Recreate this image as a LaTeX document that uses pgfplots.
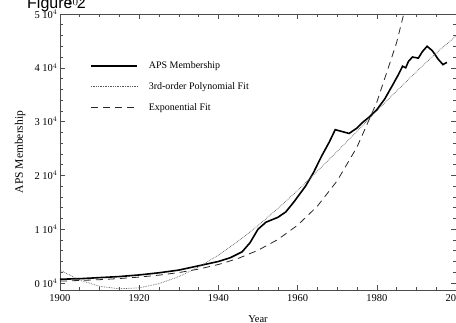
\documentclass[border=0pt]{standalone}
\usepackage{fontspec}
\setmainfont{Liberation Serif}
\newfontfamily\sansf{Liberation Sans}
\usepackage{pgfplots}
\pgfplotsset{compat=1.18}
\begin{document}
\begin{tikzpicture}[x=1pt,y=1pt]
\begin{axis}[
  at={(60pt,32pt)}, anchor=south west,
  scale only axis, width=396pt, height=276pt,
  xmin=1900, xmax=2000, ymin=-1300, ymax=50000,
  xtick={1900,1920,1940,1960,1980,2000},
  xticklabels={1900,1920,1940,1960,1980,2000},
  minor x tick num=3,
  ytick={0,10000,20000,30000,40000,50000},
  yticklabels={0 10$^4$,1 10$^4$,2 10$^4$,3 10$^4$,4 10$^4$,5 10$^4$},
  minor y tick num=4,
  major tick length=5pt, minor tick length=3pt,
  tick style={black!70, line width=0.6pt},
  axis line style={black!70, line width=0.8pt},
  ticklabel style={font=\fontsize{10.5}{12}\selectfont},
  xticklabel style={yshift=-1pt},
  yticklabel style={xshift=1pt},
  xlabel={Year}, ylabel={APS Membership},
  xlabel style={font=\fontsize{10.5}{12}\selectfont, at={(axis description cs:0.5,0)}, anchor=north, inner sep=0pt, yshift=-25pt},
  ylabel style={font=\fontsize{11.5}{13}\selectfont, at={(axis description cs:-0.101,0.5)}, anchor=center, inner sep=0pt},
  legend style={draw=none, fill=none, at={(axis description cs:0.0758,0.828)}, anchor=north west,
    inner sep=0pt, row sep=12.5pt, font=\fontsize{10}{11}\selectfont,
    nodes={inner sep=0pt, anchor=west}, column sep=11pt},
  legend cell align=left,
  legend image code/.code={\draw[#1] (0pt,0pt) -- (46pt,0pt);},
  clip=true,
]
\addplot[black, line width=1.6pt] coordinates {
(1900,700) (1905,800) (1910,1000) (1915,1200) (1920,1500) (1925,1900) (1930,2400)
(1935,3200) (1940,4000) (1943,4700) (1946,5800) (1948,7500) (1950,10000) (1952,11300)
(1955,12200) (1957,13200) (1959,15000) (1962,18000) (1964,20500) (1966,23500)
(1968,26200) (1969.5,28500) (1971,28200) (1973,27800) (1975,28800) (1976.5,29900)
(1978,30800) (1980,32200) (1982,34200) (1984,36800) (1985.5,38800) (1986.5,40300)
(1987.3,40000) (1988,41200) (1989,42000) (1990.5,41800) (1991.5,43000) (1992.7,44000)
(1994,43200) (1995.5,41600) (1996.7,40600) (1997.7,41000)
};
\addlegendentry{APS Membership}
\addplot[black!65, densely dotted, line width=0.7pt] coordinates {
(1900,2400) (1905,520) (1910,-620) (1915,-1070) (1920,-900) (1925,-120) (1930,1180)
(1935,2960) (1940,5170) (1945,7760) (1950,10670) (1955,13840) (1960,17200)
(1965,20800) (1970,24470) (1975,28210) (1980,32000) (1985,35670) (1990,39280)
(1995,42740) (2000,45900)
};
\addlegendentry{3rd-order Polynomial Fit}
\addplot[black!85, dash pattern=on 7pt off 5pt, line width=0.8pt] coordinates {
(1900,350) (1905,470) (1910,620) (1915,830) (1920,1100) (1925,1460) (1930,1940)
(1935,2580) (1940,3440) (1945,4570) (1950,6080) (1955,8080) (1960,10740)
(1965,14290) (1970,19000) (1975,25270) (1980,33590) (1985,44670) (1990,59400)
};
\addlegendentry{Exponential Fit}
\end{axis}
\node[font=\sansf\fontsize{16}{18}\selectfont, anchor=base west, inner sep=0pt] at (27pt,313pt) {Figure 2};
\pgfresetboundingbox
\path[use as bounding box] (0,0) rectangle (456pt,322pt);
\end{tikzpicture}
\end{document}
